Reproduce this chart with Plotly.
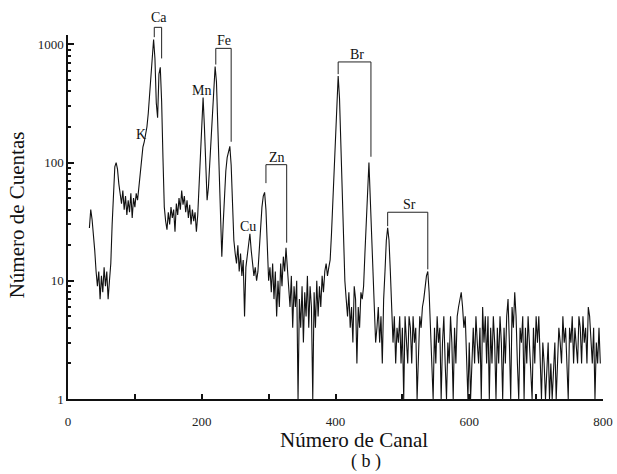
import math
import plotly.graph_objects as go

# ---------------- data (channel step = 2) ----------------
seg_start = [28, 40, 33, 26, 18, 12, 9, 12, 7, 11, 8, 13, 9, 12, 7, 10]            # ch 32-62
seg_b = [14, 30, 62, 92, 100, 88, 66, 52]                                           # ch 64-78
seg_c = [45, 58, 40, 52, 36, 48, 38, 55, 34, 50, 42, 55, 48]                        # ch 80-104
seg_ca = [62, 80, 105, 135, 150, 170, 200, 260, 380, 600,
          900, 1100, 760, 320, 240, 560, 640, 330, 110, 42]                         # ch 106-144
seg_e = [32, 27, 38, 30, 42, 34, 40, 26, 45, 36,
         50, 40, 58, 44, 52, 38, 48, 34, 44, 30,
         40, 32, 38, 26]                                                            # ch 146-192
seg_mnfe = [36, 64, 115, 205, 355, 200, 110, 48, 62, 95,
            150, 240, 400, 650, 480, 190, 80, 34, 16, 30,
            55, 85, 110, 125, 137, 95, 45, 22, 17]                                  # ch 194-250
seg_cu = [14, 20, 12, 17, 11, 15, 5, 13, 16, 20,
          25, 18, 14, 11, 13, 10, 12, 18, 30, 42]                                   # ch 252-290
seg_zn = [52, 56, 40, 18, 10, 13, 8, 14, 7, 12,
          5, 10, 6, 14, 9, 16, 12, 19, 13, 9]                                       # ch 292-330
seg_i = [6, 11, 4, 9, 6, 10, 1, 7, 4, 9,
         3, 8, 5, 11, 4, 9, 6, 1, 8, 4,
         10, 5, 9, 6, 11, 8, 12, 14, 11]                                            # ch 332-388
seg_br1 = [13, 15, 25, 45, 85, 160, 300, 540, 350, 145, 60, 25, 10, 7]              # ch 390-416
seg_k = [5, 8, 4, 6, 3, 9, 7, 2, 6, 4, 8, 7]                                        # ch 418-440
seg_br2 = [9, 17, 31, 57, 100, 50, 25, 12, 6, 3, 4]                                 # ch 442-462
seg_m = [6, 3, 5, 2, 7]                                                             # ch 464-472
seg_sr1 = [12, 22, 28, 22, 12, 6, 3]                                                # ch 474-486
seg_o = [5, 2, 4, 3, 5, 2, 4, 1, 5, 3,
         2, 5, 4, 2, 5, 3, 4, 1, 3, 5,
         4, 6]                                                                      # ch 488-530
seg_sr2 = [7, 9, 11, 12, 8, 4, 2]                                                   # ch 532-544
seg_tail = [1, 4, 2, 5, 3, 4, 1, 3, 5, 2,
            1, 3, 2, 5, 3, 1, 4, 2, 5, 6,
            7, 8, 6, 4, 5, 2, 1, 3, 1, 2,
            4, 2, 5, 3, 2, 4, 1, 6, 3, 5,
            2, 5, 1, 4, 2, 5, 3, 1, 4, 2,
            5, 3, 1, 4, 2, 5, 7, 3, 1, 6,
            4, 8, 5, 2, 1, 4, 3, 5, 1, 4,
            2, 5, 3, 2, 1, 4, 2, 5, 3, 5,
            2, 1, 3, 2, 1, 2, 3, 1, 2, 1,
            2, 3, 1, 2, 4, 3, 2, 5, 3, 4,
            2, 1, 4, 3, 5, 2, 4, 3, 2, 5,
            4, 2, 5, 3, 4, 2, 6, 5, 3, 2,
            4, 1, 3, 2, 4, 2]                                                       # ch 546-796

segments = [(32, seg_start), (64, seg_b), (80, seg_c), (106, seg_ca), (146, seg_e),
            (194, seg_mnfe), (252, seg_cu), (292, seg_zn), (332, seg_i), (390, seg_br1),
            (418, seg_k), (442, seg_br2), (464, seg_m), (474, seg_sr1), (488, seg_o),
            (532, seg_sr2), (546, seg_tail)]
channels, counts = [], []
for start, vals in segments:
    for i, v in enumerate(vals):
        channels.append(start + 2 * i)
        counts.append(v)

# element labels with brackets
br_labels = ["Ca", "Fe", "Zn", "Br", "Sr"]
br_left = [129, 221, 296, 404, 478]
br_right = [140, 244, 327, 453, 538]
br_top = [1393, 925, 96, 710, 38]
br_left_bottom = [1150, 675, 67, 560, 29]
br_right_bottom = [760, 150, 21, 112, 12.5]
br_label_ch = [136, 233, 312, 432, 510]
br_label_level = [1700, 1080, 110, 820, 44]

# element labels without brackets
free_labels = ["K", "Mn", "Cu"]
free_label_ch = [109, 200, 269]
free_label_level = [172, 405, 29]

y_ticks = [1, 10, 100, 1000]
y_ticktext = ["1", "10", "100", "1000"]
x_ticks = [0, 200, 400, 600, 800]
x_ticktext = ["0", "200", "400", "600", "800"]

# ---------------- figure ----------------
Y_TOP = 1200
YLOG = math.log10(Y_TOP)
FONT = "Liberation Serif"

def pap(v):
    return math.log10(v) / YLOG

fig = go.Figure()
fig.add_trace(go.Scatter(x=channels, y=counts, mode="lines",
                         line=dict(color="#111111", width=1.1), showlegend=False,
                         hoverinfo="skip"))

shapes = []
annotations = []
for lab, l, r, t, lb, rb, lc, ll in zip(br_labels, br_left, br_right, br_top,
                                        br_left_bottom, br_right_bottom,
                                        br_label_ch, br_label_level):
    path = "M {},{} L {},{} L {},{} L {},{}".format(l, pap(lb), l, pap(t), r, pap(t), r, pap(rb))
    shapes.append(dict(type="path", xref="x", yref="paper", path=path,
                       line=dict(color="#222222", width=1)))
    annotations.append(dict(x=lc, y=pap(ll), xref="x", yref="paper", text=lab,
                            xanchor="center", yanchor="middle",
                            showarrow=False, font=dict(family=FONT, size=14, color="#111")))
for lab, c, lv in zip(free_labels, free_label_ch, free_label_level):
    annotations.append(dict(x=c, y=pap(lv), xref="x", yref="paper", text=lab,
                            xanchor="center", yanchor="middle",
                            showarrow=False, font=dict(family=FONT, size=14, color="#111")))

annotations.append(dict(x=-0.095, y=0.505, xref="paper", yref="paper", text="Número de Cuentas",
                        textangle=-90, showarrow=False, xanchor="center", yanchor="middle",
                        font=dict(family=FONT, size=21, color="#111")))
annotations.append(dict(x=0.535, y=-0.112, xref="paper", yref="paper", text="Número de Canal",
                        showarrow=False, xanchor="center", yanchor="middle",
                        font=dict(family=FONT, size=21, color="#111")))
annotations.append(dict(x=0.557, y=-0.172, xref="paper", yref="paper", text="( b )",
                        showarrow=False, xanchor="center", yanchor="middle",
                        font=dict(family=FONT, size=18, color="#111")))

minor_y = [m * d for d in (1, 10, 100) for m in range(2, 10)] + [2000]

fig.update_layout(
    width=617, height=474,
    margin=dict(l=68, r=14, t=35, b=75),
    paper_bgcolor="white", plot_bgcolor="white",
    shapes=shapes, annotations=annotations,
    xaxis=dict(range=[0, 800], tickvals=x_ticks, ticktext=x_ticktext,
               ticks="inside", ticklen=5, tickcolor="#111", tickwidth=1.5,
               showline=True, linecolor="#111", linewidth=1.5, automargin=False,
               showgrid=False, zeroline=False, ticklabelstandoff=10,
               tickfont=dict(family=FONT, size=13, color="#222"),
               minor=dict(dtick=100, tick0=0, ticks="inside", ticklen=5,
                          tickcolor="#111", showgrid=False)),
    yaxis=dict(type="log", range=[0, YLOG], tickvals=y_ticks, ticktext=y_ticktext,
               ticks="inside", ticklen=6, tickcolor="#111", tickwidth=1.5,
               showline=True, linecolor="#111", linewidth=1.5, automargin=False,
               showgrid=False, zeroline=False,
               tickfont=dict(family=FONT, size=13, color="#222"),
               minor=dict(tickvals=minor_y, ticks="inside", ticklen=3,
                          tickcolor="#111", showgrid=False)),
)

fig.write_html("out.html")
